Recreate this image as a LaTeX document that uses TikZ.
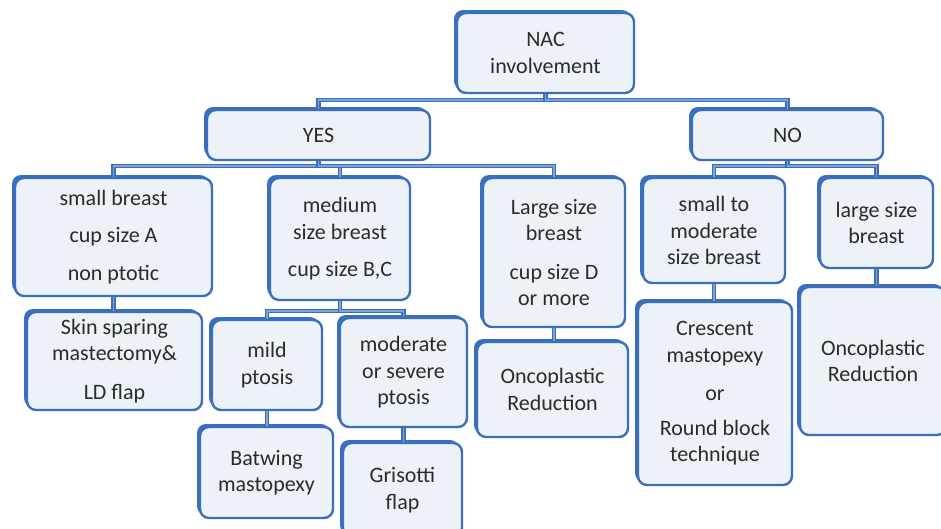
\documentclass[tikz,border=0pt]{standalone}
\usepackage{fontspec}
\setmainfont{Carlito}
\usetikzlibrary{shadows}
\definecolor{boxblue}{HTML}{3A6FBD}
\definecolor{boxfill}{HTML}{EDF2F8}
\definecolor{connlight}{HTML}{7FA3D8}
\definecolor{txt}{HTML}{2B2B2B}
\tikzset{
  box/.style={draw=boxblue, line width=2.4pt, fill=boxfill, rounded corners=9pt,
    inner sep=0pt, align=center, text=txt,
    font=\fontsize{22}{26.5}\selectfont,
    general shadow={fill=boxblue, shadow xshift=-3pt, shadow yshift=3pt, rounded corners=9pt}},
  conn/.style={draw=boxblue, line width=1.4pt, double=connlight, double distance=1.5pt}
}
\newcommand{\bx}[6]{% name, left, top, right, bottom, text
  \node[box, minimum width={#4-#2}, minimum height={#5-#3}] (#1) at ({(#2+#4)/2},{(#3+#5)/2}) {#6};}
\begin{document}
\begin{tikzpicture}[x=1pt,y=-1pt]
\useasboundingbox[fill=white] (0,0) rectangle (941,528);
\bx{nac}{457}{13}{634}{93}{NAC\\involvement}
\bx{yes}{207}{110}{430}{160}{YES}
\bx{no}{692}{110}{883}{160}{NO}
\bx{small}{15}{178}{212}{296}{small breast\\[11pt]cup size A\\[11pt]non ptotic}
\bx{medium}{270}{178}{410}{300}{medium\\size breast\\[11pt]cup size B,C}
\bx{large}{483}{178}{625}{327}{Large size\\breast\\[12pt]cup size D\\or more}
\bx{smallmod}{643}{178}{785}{283}{small to\\moderate\\size breast}
\bx{larger}{820}{178}{933}{268}{large size\\breast}
\bx{skin}{27}{312}{202}{410}{Skin sparing\\mastectomy\&\\[12pt]LD flap}
\bx{mild}{212}{320}{322}{410}{mild\\ptosis}
\bx{modsev}{340}{318}{467}{427}{moderate\\or severe\\ptosis}
\bx{batwing}{200}{427}{333}{518}{Batwing\\mastopexy}
\bx{grisotti}{343}{443}{462}{537}{Grisotti\\flap}
\bx{oncol}{477}{342}{628}{437}{Oncoplastic\\Reduction}
\bx{crescent}{638}{302}{792}{485}{Crescent\\mastopexy\\[12pt]or\\[8pt]Round block\\technique}
\bx{oncor}{800}{287}{946}{435}{Oncoplastic\\Reduction}
% connectors
\draw[conn] (nac.south) -- ++(0,6) -| (yes.north);
\draw[conn] (nac.south) -- ++(0,6) -| (no.north);
\draw[conn] (yes.south) -- ++(0,5) -| (small.north);
\draw[conn] (yes.south) -- ++(0,5) -| (medium.north);
\draw[conn] (yes.south) -- ++(0,5) -| (large.north);
\draw[conn] (no.south) -- ++(0,5) -| (smallmod.north);
\draw[conn] (no.south) -- ++(0,5) -| (larger.north);
\draw[conn] (small.south) -- (small.south |- skin.north);
\draw[conn] (medium.south) -- ++(0,10) -| (mild.north);
\draw[conn] (medium.south) -- ++(0,10) -| (modsev.north);
\draw[conn] (mild.south) -- (mild.south |- batwing.north);
\draw[conn] (modsev.south) -- (modsev.south |- grisotti.north);
\draw[conn] (large.south) -- (large.south |- oncol.north);
\draw[conn] (smallmod.south) -- (smallmod.south |- crescent.north);
\draw[conn] (larger.south) -- (larger.south |- oncor.north);
\end{tikzpicture}
\end{document}
